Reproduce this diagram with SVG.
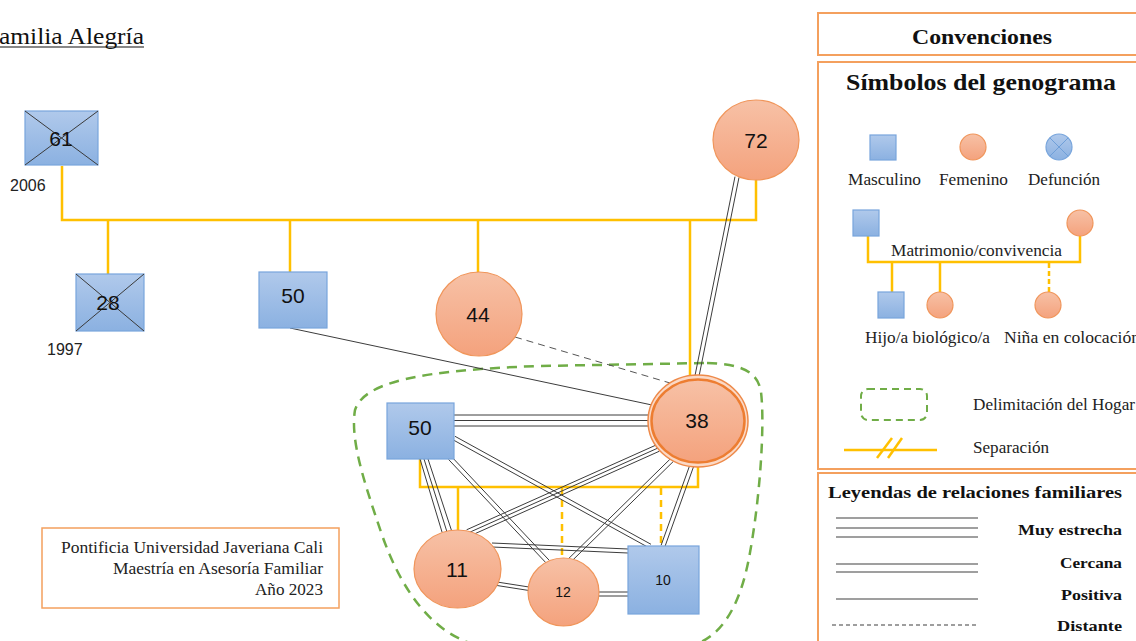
<svg xmlns="http://www.w3.org/2000/svg" width="1136" height="641" viewBox="0 0 1136 641">
<defs>
<linearGradient id="gb" x1="0" y1="0" x2="0" y2="1"><stop offset="0" stop-color="#b0c9eb"/><stop offset="1" stop-color="#8bb1e1"/></linearGradient>
<linearGradient id="go" x1="0" y1="0" x2="0" y2="1"><stop offset="0" stop-color="#f7c1a6"/><stop offset="1" stop-color="#f4a27d"/></linearGradient>
<style>
.m{fill:url(#gb);stroke:#78a5dc;stroke-width:1.2}
.f{fill:url(#go);stroke:#f0955a;stroke-width:1.2}
.x{stroke:#3a3a3a;stroke-width:1}
.y{stroke:#ffc000;stroke-width:2.5;fill:none}
.yd{stroke:#ffc000;stroke-width:2.5;fill:none;stroke-dasharray:7,5}
.r{stroke:#3c3c3c;stroke-width:1;fill:none}
.rd{stroke:#555;stroke-width:1;fill:none;stroke-dasharray:7,5}
.lg{stroke:#7f7f7f;stroke-width:1.5}
.box{fill:none;stroke:#f4a05e;stroke-width:2}
.n{font-family:"Liberation Sans",Arial,sans-serif;font-size:21px;fill:#111;text-anchor:middle}
.ns{font-family:"Liberation Sans",Arial,sans-serif;font-size:14px;fill:#111;text-anchor:middle}
.yr{font-family:"Liberation Sans",Arial,sans-serif;font-size:16px;fill:#222}
.s{font-family:"Liberation Serif","Times New Roman",serif;font-size:16px;fill:#222}
.sb{font-family:"Liberation Serif","Times New Roman",serif;font-weight:bold;fill:#111}
</style>
</defs>
<rect width="1136" height="641" fill="#fff"/>

<!-- title -->
<text x="-1" y="44" font-family="Liberation Serif, Times New Roman, serif" font-size="23" fill="#111" textLength="145" lengthAdjust="spacingAndGlyphs">amilia Alegría</text>
<line x1="0" y1="47" x2="144" y2="47" stroke="#111" stroke-width="1.2"/>

<!-- household boundary -->
<path d="M707,363 C742,364 758,372 761,392 C765,425 760,500 749,558 C740,605 722,638 690,646 L470,643 C432,630 402,592 382,535 C364,482 350,440 355,410 C364,382 420,370 540,366 Z" fill="none" stroke="#70ad47" stroke-width="2.5" stroke-dasharray="10,7"/>

<g id="connectors">
<!-- family yellow lines -->
<path class="y" d="M62,166 V220 H756 V180"/>
<line class="y" x1="108" y1="220" x2="108" y2="274"/>
<line class="y" x1="290" y1="220" x2="290" y2="272"/>
<line class="y" x1="478" y1="220" x2="478" y2="273"/>
<line class="y" x1="690" y1="220" x2="690" y2="378"/>
<path class="y" d="M420,459 V487 H698 V466"/>
<line class="y" x1="458" y1="487" x2="458" y2="531"/>
<line class="yd" x1="562" y1="488" x2="562" y2="558"/>
<line class="yd" x1="661" y1="488" x2="661" y2="546"/>

<!-- relationships -->
<line class="r" x1="290" y1="328" x2="652" y2="405"/>
<line class="rd" x1="515" y1="337" x2="670" y2="383"/>
<line class="r" x1="735" y1="176.6" x2="695" y2="375.6"/>
<line class="r" x1="739" y1="177.4" x2="699" y2="376.4"/>
<line class="r" x1="454" y1="415" x2="650" y2="415"/>
<line class="r" x1="454" y1="420.5" x2="648" y2="420.5"/>
<line class="r" x1="454" y1="426" x2="649" y2="426"/>
<line class="r" x1="420" y1="459" x2="442" y2="532"/>
<line class="r" x1="424" y1="459" x2="447" y2="532"/>
<line class="r" x1="428" y1="459" x2="452" y2="532"/>
<line class="r" x1="448.5" y1="459.4" x2="546.5" y2="563.4"/>
<line class="r" x1="451.5" y1="456.6" x2="549.5" y2="560.6"/>
<line class="r" x1="453" y1="439.8" x2="649" y2="547.8"/>
<line class="r" x1="455" y1="436.3" x2="651" y2="544.3"/>
<line class="r" x1="656.6" y1="444.8" x2="466.6" y2="529.8"/>
<line class="r" x1="658" y1="448" x2="468" y2="533"/>
<line class="r" x1="659.4" y1="451.2" x2="469.4" y2="536.2"/>
<line class="r" x1="670.6" y1="458.6" x2="568.6" y2="558.6"/>
<line class="r" x1="673.4" y1="461.4" x2="571.4" y2="561.4"/>
<line class="r" x1="690.1" y1="464.3" x2="661.1" y2="545.3"/>
<line class="r" x1="693.9" y1="465.7" x2="664.9" y2="546.7"/>
<line class="r" x1="492" y1="543" x2="628" y2="549"/>
<line class="r" x1="492" y1="547" x2="628" y2="553"/>
<line class="r" x1="497" y1="582" x2="529" y2="587"/>
<line class="r" x1="497" y1="585.5" x2="529" y2="590.5"/>
<line class="r" x1="599" y1="592" x2="628" y2="592"/>
<line class="r" x1="599" y1="596" x2="628" y2="596"/>
</g>

<g id="n61">
<rect class="m" x="25" y="111" width="73" height="54"/>
<line class="x" x1="25" y1="111" x2="98" y2="165"/><line class="x" x1="98" y1="111" x2="25" y2="165"/>
<text class="n" x="61" y="146">61</text>
<text class="yr" x="10" y="191">2006</text>
</g>
<g id="n28">
<rect class="m" x="76" y="274" width="68" height="57"/>
<line class="x" x1="76" y1="274" x2="144" y2="331"/><line class="x" x1="144" y1="274" x2="76" y2="331"/>
<text class="n" x="108" y="310">28</text>
<text class="yr" x="47" y="355">1997</text>
</g>
<g id="n50a">
<rect class="m" x="259" y="272" width="68" height="56"/>
<text class="n" x="293" y="303">50</text>
</g>
<g id="n44">
<ellipse class="f" cx="479" cy="314" rx="43" ry="42"/>
<text class="n" x="478" y="322">44</text>
</g>
<g id="n72">
<ellipse class="f" cx="756" cy="140" rx="43" ry="40"/>
<text class="n" x="756" y="148">72</text>
</g>
<g id="n38">
<ellipse cx="698" cy="421" rx="50" ry="46" fill="#fbd9c6" stroke="#ee8a4a" stroke-width="1.5"/>
<ellipse cx="698" cy="421" rx="46.5" ry="41.5" fill="url(#go)" stroke="#ed7d31" stroke-width="2.5"/>
<text class="n" x="697" y="428">38</text>
</g>
<g id="n50b">
<rect class="m" x="387" y="403" width="67" height="56"/>
<text class="n" x="420" y="435">50</text>
</g>
<g id="n11">
<ellipse class="f" cx="457.5" cy="569" rx="43.5" ry="39"/>
<text class="n" x="457" y="577">11</text>
</g>
<g id="n12">
<ellipse class="f" cx="563.5" cy="592" rx="35.5" ry="34"/>
<text class="ns" x="563" y="597">12</text>
</g>
<g id="n10">
<rect class="m" x="628" y="546" width="71" height="68"/>
<text class="ns" x="663" y="585">10</text>
</g>

<!-- footer -->
<g id="footer">
<rect x="42" y="528" width="297" height="80" fill="none" stroke="#f4a05e" stroke-width="1.5"/>
<text class="s" x="323" y="553" text-anchor="end" textLength="262" lengthAdjust="spacingAndGlyphs">Pontificia Universidad Javeriana Cali</text>
<text class="s" x="323" y="574" text-anchor="end" textLength="210" lengthAdjust="spacingAndGlyphs">Maestría en Asesoría Familiar</text>
<text class="s" x="323" y="595" text-anchor="end" textLength="68" lengthAdjust="spacingAndGlyphs">Año 2023</text>
</g>

<!-- legend -->
<g id="legend">
<rect class="box" x="818" y="13" width="330" height="42"/>
<text class="sb" x="912" y="44" font-size="22" textLength="140" lengthAdjust="spacingAndGlyphs">Convenciones</text>
<rect class="box" x="818" y="62" width="330" height="407"/>
<text class="sb" x="846" y="90" font-size="23" textLength="270" lengthAdjust="spacingAndGlyphs">Símbolos del genograma</text>

<rect class="m" x="870" y="135" width="26" height="25"/>
<circle class="f" cx="973" cy="147" r="13"/>
<circle class="m" cx="1059" cy="147" r="13"/>
<line x1="1049.8" y1="137.8" x2="1068.2" y2="156.2" stroke="#6f9fd8" stroke-width="1"/>
<line x1="1068.2" y1="137.8" x2="1049.8" y2="156.2" stroke="#6f9fd8" stroke-width="1"/>
<text class="s" x="848" y="185" textLength="73" lengthAdjust="spacingAndGlyphs">Masculino</text>
<text class="s" x="939" y="185" textLength="69" lengthAdjust="spacingAndGlyphs">Femenino</text>
<text class="s" x="1028" y="185" textLength="72" lengthAdjust="spacingAndGlyphs">Defunción</text>

<path class="y" d="M868,236 V262 H1080 V236"/>
<line class="y" x1="892" y1="262" x2="892" y2="292"/>
<line class="y" x1="940" y1="262" x2="940" y2="292"/>
<line class="yd" x1="1049" y1="263" x2="1049" y2="292" style="stroke-dasharray:5,3"/>
<rect class="m" x="853" y="210" width="26" height="26"/>
<circle class="f" cx="1080" cy="223" r="13"/>
<text class="s" x="891" y="256" textLength="171" lengthAdjust="spacingAndGlyphs">Matrimonio/convivencia</text>
<rect class="m" x="878" y="292" width="26" height="26"/>
<circle class="f" cx="940" cy="305" r="13"/>
<circle class="f" cx="1048" cy="305" r="13"/>
<text class="s" x="865" y="343" textLength="125" lengthAdjust="spacingAndGlyphs">Hijo/a biológico/a</text>
<text class="s" x="1004" y="343" textLength="136" lengthAdjust="spacingAndGlyphs">Niña en colocación</text>

<rect x="861" y="389" width="66" height="31" rx="7" fill="none" stroke="#70ad47" stroke-width="2" stroke-dasharray="7,5"/>
<text class="s" x="973" y="410" textLength="162" lengthAdjust="spacingAndGlyphs">Delimitación del Hogar</text>
<line class="y" x1="844" y1="450" x2="937" y2="450"/>
<line class="y" x1="877" y1="458" x2="892" y2="438"/>
<line class="y" x1="888" y1="458" x2="902" y2="438"/>
<text class="s" x="973" y="453" textLength="76" lengthAdjust="spacingAndGlyphs">Separación</text>

<rect class="box" x="818" y="473" width="330" height="180"/>
<text class="sb" x="828" y="498" font-size="17" textLength="294" lengthAdjust="spacingAndGlyphs">Leyendas de relaciones familiares</text>
<line class="lg" x1="836" y1="518" x2="978" y2="518"/>
<line class="lg" x1="836" y1="528" x2="978" y2="528"/>
<line class="lg" x1="836" y1="537" x2="978" y2="537"/>
<text class="sb" x="1122" y="535" font-size="15" text-anchor="end" textLength="104" lengthAdjust="spacingAndGlyphs">Muy estrecha</text>
<line class="lg" x1="836" y1="564" x2="978" y2="564"/>
<line class="lg" x1="836" y1="572" x2="978" y2="572"/>
<text class="sb" x="1122" y="568" font-size="15" text-anchor="end" textLength="62" lengthAdjust="spacingAndGlyphs">Cercana</text>
<line class="lg" x1="836" y1="599" x2="978" y2="599"/>
<text class="sb" x="1122" y="600" font-size="15" text-anchor="end" textLength="61" lengthAdjust="spacingAndGlyphs">Positiva</text>
<line class="lg" x1="832" y1="625" x2="978" y2="625" stroke-dasharray="4,3"/>
<text class="sb" x="1122" y="631" font-size="15" text-anchor="end" textLength="65" lengthAdjust="spacingAndGlyphs">Distante</text>
</g>
</svg>
